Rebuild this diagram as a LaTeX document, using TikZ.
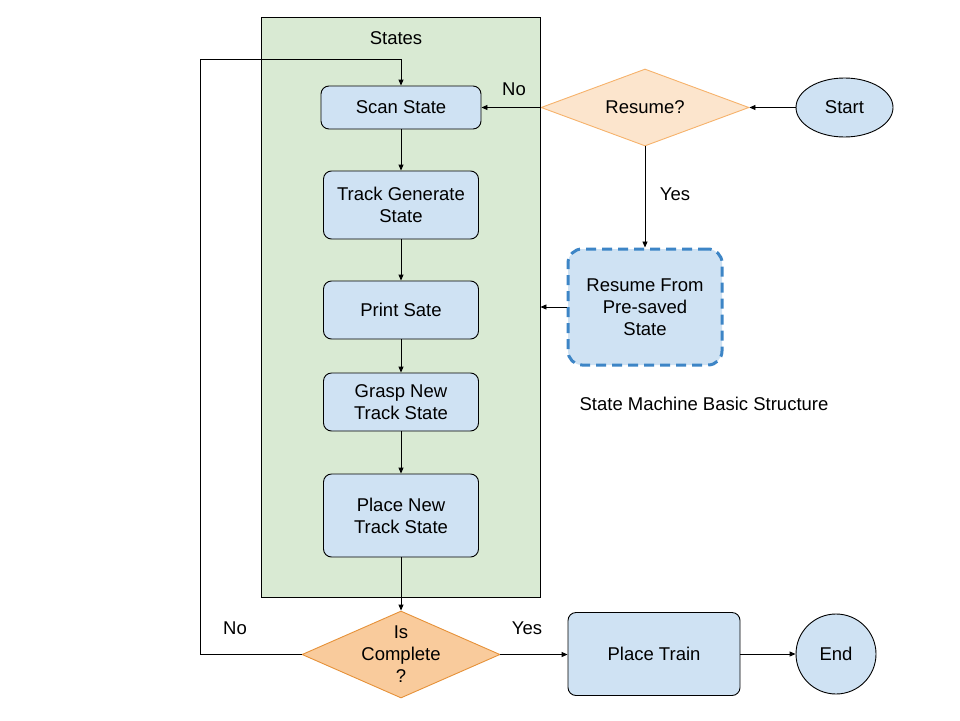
\documentclass[tikz,border=0pt]{standalone}
\usepackage{fontspec}
\setmainfont{Liberation Sans}
\usetikzlibrary{shapes.geometric,arrows.meta}
\definecolor{grn}{HTML}{D9EAD3}
\definecolor{blu}{HTML}{CFE2F3}
\definecolor{ltor}{HTML}{FCE5CD}
\definecolor{ltorb}{HTML}{F6B26B}
\definecolor{dkor}{HTML}{F9CB9C}
\definecolor{dkorb}{HTML}{E69138}
\definecolor{dblu}{HTML}{3D85C6}
\begin{document}
\begin{tikzpicture}[x=1pt,y=-1pt,
  font=\fontsize{18.5}{22}\selectfont,
  box/.style={draw, fill=blu, rounded corners=8pt, line width=0.9pt, inner sep=0pt, align=center},
  dec/.style={shape=diamond, draw, inner sep=0pt, line width=0.9pt},
  arr/.style={-{Triangle[length=6pt,width=5pt]}, line width=0.9pt},
  lbl/.style={inner sep=0pt, align=center}]
\useasboundingbox (0,0) rectangle (960,720);
% container
\node[draw, fill=grn, line width=0.9pt, minimum width=279, minimum height=580, inner sep=0pt] (states) at (400.5,307) {};
\node[lbl] (stlabel) at (396,38) {States};
% state boxes
\node[box, minimum width=160, minimum height=43] (scan) at (401,107.5) {Scan State};
\node[box, minimum width=155, minimum height=68] (track) at (401,205) {Track Generate\\State};
\node[box, minimum width=155, minimum height=58] (print) at (401,310) {Print Sate};
\node[box, minimum width=155, minimum height=58] (grasp) at (401,402) {Grasp New\\Track State};
\node[box, minimum width=155, minimum height=83] (place) at (401,515.5) {Place New\\Track State};
% right side
\node[dec, fill=ltor, draw=ltorb, minimum width=208, minimum height=77] (resume) at (645,107.5) {};
\node[lbl] (resumetext) at (resume) {Resume?};
\node[ellipse, draw, fill=blu, line width=0.9pt, minimum width=97, minimum height=59, inner sep=0pt] (start) at (844.5,107.5) {Start};
\node[draw=dblu, fill=blu, dash pattern=on 10pt off 6pt, line width=3pt, rounded corners=14pt, minimum width=154, minimum height=116, inner sep=0pt, align=center] (rbox) at (645,307) {Resume From\\Pre-saved\\State};
\node[lbl] (yes1) at (675,194) {Yes};
\node[lbl] (no1) at (514,89) {No};
\node[lbl] (title) at (704,404) {State Machine Basic Structure};
% bottom
\node[dec, fill=dkor, draw=dkorb, minimum width=198, minimum height=87] (ic) at (401,654.5) {};
\node[lbl] (ictext) at (ic) {Is\\Complete\\?};
\node[box, minimum width=172, minimum height=83] (train) at (654,654) {Place Train};
\node[circle, draw, fill=blu, line width=0.9pt, minimum size=80, inner sep=0pt] (endn) at (836,654) {End};
\node[lbl] (no2) at (235,628) {No};
\node[lbl] (yes2) at (527,628) {Yes};
\coordinate (lp) at (200,59);
% connectors
\draw[arr] (start) -- (resume.east);
\draw[arr] (resume.west) -- (scan.east);
\draw[arr] (resume.south) -- (rbox.north);
\draw[arr] (rbox.west) -- (rbox.west -| states.east);
\draw[arr] (scan) -- (track);
\draw[arr] (track) -- (print);
\draw[arr] (print) -- (grasp);
\draw[arr] (grasp) -- (place);
\draw[arr] (place) -- (ic.north);
\draw[arr] (ic.east) -- (train.west |- ic.east);
\draw[arr] (train.east) -- (endn.west);
\draw[arr] (ic.west) -| (lp) -| (scan.north);
\end{tikzpicture}
\end{document}
